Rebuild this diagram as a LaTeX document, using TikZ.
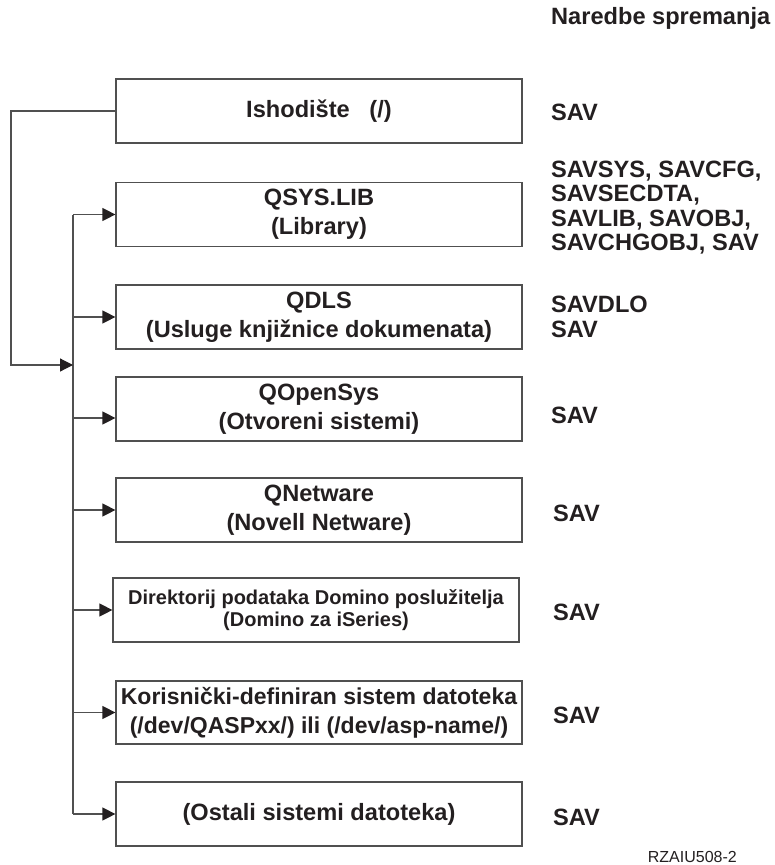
\documentclass[tikz,border=0pt]{standalone}
\usepackage{fontspec}
\setmainfont{Liberation Sans}
\usepackage{tikz}
\usetikzlibrary{arrows.meta, positioning, calc}
\definecolor{ink}{HTML}{231F20}
\definecolor{frame}{HTML}{505050}

\begin{document}
\begin{tikzpicture}[x=1pt, y=-1pt,
    box/.style={draw=frame, line width=1.2pt, minimum width=406pt, minimum height=64pt, inner sep=0pt, align=center, text=ink, font=\bfseries\fontsize{23.6}{29}\selectfont},
    cmd/.style={anchor=west, align=left, inner sep=0pt, text=ink, font=\bfseries\fontsize{23.6}{24.3}\selectfont},
    link/.style={draw=frame, line width=1.2pt},
    arr/.style={link, -{Triangle[length=13pt, width=13pt, color=ink]}}]
            \useasboundingbox (0,0) rectangle (774,865);
            \node[cmd] (head) at (551, 18) {Naredbe spremanja};
            \node[box] (root)     at (319, 111)   {Ishodište \ \ (/)};
            \node[box] (qsys)     at (319, 214.5) {QSYS.LIB\\(Library)};
            \node[box] (qdls)     at (319, 317)   {QDLS\\(Usluge knjižnice dokumenata)};
            \node[box] (qopensys) at (319, 409)   {QOpenSys\\(Otvoreni sistemi)};
            \node[box] (qnetware) at (319, 510)   {QNetware\\(Novell Netware)};
            \node[box, font=\bfseries\fontsize{20}{21.5}\selectfont] (domino) at (316, 610) {Direktorij podataka Domino poslužitelja\\(Domino za iSeries)};
            \node[box, minimum height=63pt, font=\bfseries\fontsize{23}{29}\selectfont] (udfs) at (319, 712.5) {Korisnički-definiran sistem datoteka\\(/dev/QASPxx/) ili (/dev/asp-name/)};
            \node[box] (ostali)   at (319, 814)   {(Ostali sistemi datoteka)};
            \node[cmd] (cmdroot) at (551, 112)   {SAV};
            \node[cmd] (cmdqsys) at (551, 207.5) {SAVSYS, SAVCFG,\\SAVSECDTA,\\SAVLIB, SAVOBJ,\\SAVCHGOBJ, SAV};
            \node[cmd] (cmdqdls) at (551, 317)   {SAVDLO\\SAV};
            \node[cmd] (cmdqopen) at (551, 415)  {SAV};
            \node[cmd] (cmdqnet) at (553, 513)   {SAV};
            \node[cmd] (cmddom)  at (553, 612)   {SAV};
            \node[cmd] (cmdudfs) at (553, 715)   {SAV};
            \node[cmd] (cmdost)  at (553, 817)   {SAV};
            \node[anchor=east, inner sep=0pt, text=ink, font=\fontsize{16}{18}\selectfont] (figid) at (737, 857) {RZAIU508-2};
            \coordinate (trunk) at (73, 0);
            \coordinate (loop) at (11, 365);
            \coordinate (qopenin) at ($(qopensys.west)+(0,9)$);
            \draw[link] (trunk |- qsys.west) -- (trunk |- ostali.west);
            \draw[arr] (root.west) -| (loop) -- (trunk |- loop);
            \draw[arr] (trunk |- qsys.west) -- (qsys.west);
            \draw[arr] (trunk |- qdls.west) -- (qdls.west);
            \draw[arr] (trunk |- qopenin) -- (qopenin);
            \draw[arr] (trunk |- qnetware.west) -- (qnetware.west);
            \draw[arr] (trunk |- domino.west) -- (domino.west);
            \draw[arr] (trunk |- udfs.west) -- (udfs.west);
            \draw[arr] (trunk |- ostali.west) -- (ostali.west);
        \end{tikzpicture}
\end{document}
